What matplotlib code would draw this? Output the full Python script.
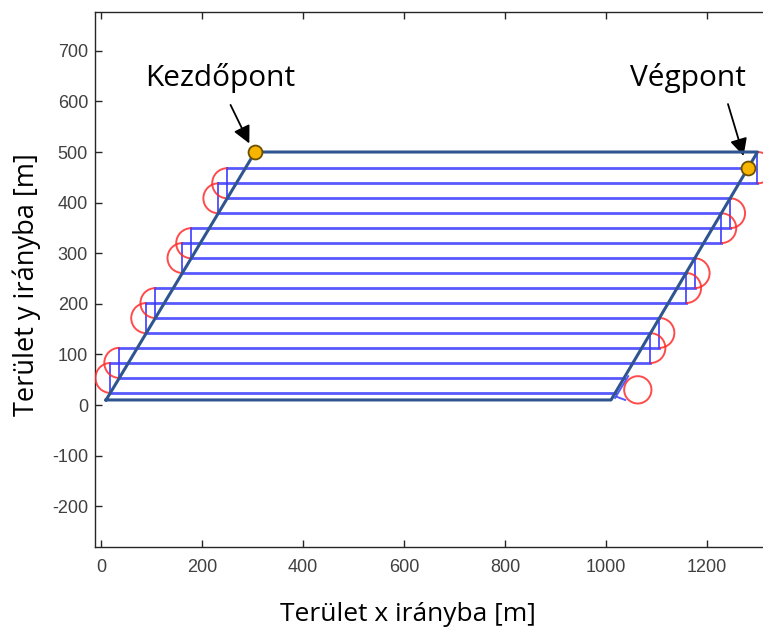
import numpy as np
import matplotlib.pyplot as plt
from matplotlib.patches import Arc, Circle

plt.rcParams['axes.unicode_minus'] = False

# field boundary (parallelogram)
field_x = [10, 1010, 1300, 305, 10]
field_y = [10, 10, 500, 500, 10]

# sweep lines: y position and the x where each one ends on the left / right
line_y = [24, 53.5, 83, 113, 142, 172, 201.5, 231, 261, 290, 320, 349.5, 379, 408.5, 438, 468]
line_left = [18.4, 36.2, 18.4, 36.2, 89.5, 107.5, 89.5, 107.5,
             161.1, 178.6, 161.1, 178.6, 232.1, 249.9, 232.1, 249.9]
line_right = [1018.3, 1035.7, 1088.1, 1105.9, 1088.1, 1105.9, 1158.6, 1175.7,
              1158.6, 1175.7, 1228.4, 1245.9, 1228.4, 1245.9, 1300, 1281.1]

# turns (x of the turn, lower line, upper line)
left_turn_x = [18.4, 36.2, 89.5, 107.5, 161.1, 178.6, 232.1, 249.9]
left_turn_lo = [24, 53.5, 142, 172, 261, 290, 379, 408.5]
left_turn_hi = [83, 113, 201.5, 231, 320, 349.5, 438, 468]
right_turn_x = [1088.1, 1105.9, 1158.6, 1175.7, 1228.4, 1245.9, 1300]
right_turn_lo = [83, 113, 201.5, 231, 320, 349.5, 438]
right_turn_hi = [142, 172, 261, 290, 379, 408.5, 500]

# loop turn between the two lowest lines
loop_center = (1063, 30)
loop_r = 27
loop_seg_x = [[1018, 1044], [1022, 1038]]
loop_seg_y = [[14, 57], [16, 10]]

start_pt = (305, 500)
end_pt = (1281, 468)

x_ticks = [0, 200, 400, 600, 800, 1000, 1200]
y_ticks = [-200, -100, 0, 100, 200, 300, 400, 500, 600, 700]

path_blue = '#3b3bff'
turn_red = '#ff2b2b'
edge_col = '#2f5590'
label_font = ['Open Sans', 'DejaVu Sans']
tick_font = ['Liberation Sans', 'DejaVu Sans']

fig = plt.figure(figsize=(7.63, 6.38), dpi=100)
ax = fig.add_axes([95 / 763, 91 / 638, 680 / 763, 535 / 638])

for y, xl, xr in zip(line_y, line_left, line_right):
    ax.plot([xl, xr], [y, y], color=path_blue, lw=2.0, alpha=0.85, zorder=2)

for x, lo, hi in zip(left_turn_x, left_turn_lo, left_turn_hi):
    ax.plot([x, x], [lo, hi], color=path_blue, lw=1.4, alpha=0.85, zorder=2)
    r = (hi - lo) / 2
    ax.add_patch(Arc((x, lo + r), 2 * r, 2 * r, theta1=90, theta2=270,
                     color=turn_red, lw=1.4, alpha=0.85, zorder=3))

for x, lo, hi in zip(right_turn_x, right_turn_lo, right_turn_hi):
    ax.plot([x, x], [lo, hi], color=path_blue, lw=1.4, alpha=0.85, zorder=2)
    r = (hi - lo) / 2
    ax.add_patch(Arc((x, lo + r), 2 * r, 2 * r, theta1=-90, theta2=90,
                     color=turn_red, lw=1.4, alpha=0.85, zorder=3))

ax.add_patch(Circle(loop_center, loop_r, fill=False, ec=turn_red, lw=1.4,
                    alpha=0.85, zorder=3))
for sx, sy in zip(loop_seg_x, loop_seg_y):
    ax.plot(sx, sy, color=path_blue, lw=1.4, alpha=0.85, zorder=2)

ax.plot(field_x, field_y, color=edge_col, lw=2.2, zorder=4)

for p in (start_pt, end_pt):
    ax.plot(p[0], p[1], 'o', ms=10, mfc='#f7b500', mec='#6b5000', mew=1.3, zorder=6)

# labels with arrows
ax.text(236, 646, 'Kezdőpont', fontsize=21.5, family=label_font, ha='center', va='center')
ax.annotate('', xy=(296, 512), xytext=(254, 598),
            arrowprops=dict(arrowstyle='-|>', color='k', lw=1.3, mutation_scale=26))
ax.text(1162, 646, 'Végpont', fontsize=21.5, family=label_font, ha='center', va='center')
ax.annotate('', xy=(1274, 487), xytext=(1240, 600),
            arrowprops=dict(arrowstyle='-|>', color='k', lw=1.3, mutation_scale=26))

ax.set_xlim(-12, 1334.7)
ax.set_ylim(-280.6, 776.7)
ax.set_xticks(x_ticks)
ax.set_yticks(y_ticks)
ax.tick_params(direction='in', top=True, right=True, length=5, width=1,
               colors='#262626', labelcolor='#404040', labelsize=13)
ax.tick_params(axis='x', pad=9)
ax.tick_params(axis='y', pad=5)
for lab in ax.get_xticklabels() + ax.get_yticklabels():
    lab.set_family(tick_font)
for s in ax.spines.values():
    s.set_color('#262626')
    s.set_linewidth(1)

ax.set_xlabel('Terület x irányba [m]', fontsize=19, family=label_font)
ax.set_ylabel('Terület y irányba [m]', fontsize=19.5, family=label_font)
ax.xaxis.set_label_coords(0.46, -0.103)
ax.yaxis.set_label_coords(-0.079, 0.49)

fig.savefig('out.png', dpi=100)
